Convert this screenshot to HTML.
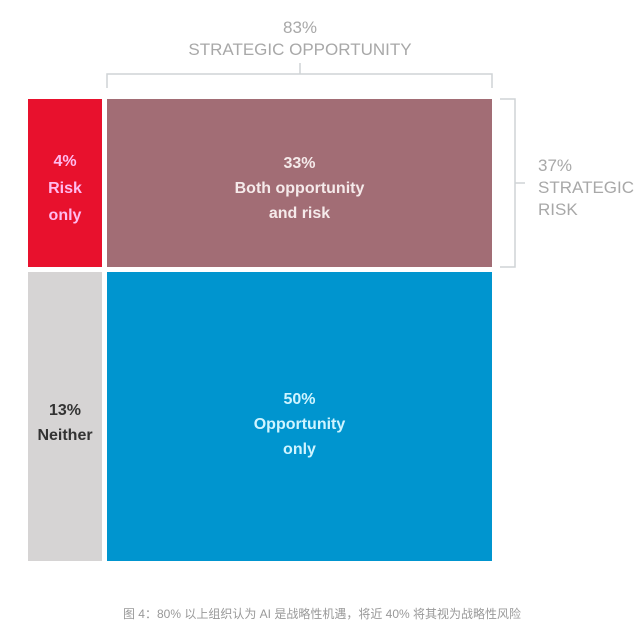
<!DOCTYPE html>
<html><head><meta charset="utf-8"><style>
body{margin:0;width:644px;height:629px;background:#fff;position:relative;overflow:hidden;font-family:"Liberation Sans","Noto Sans CJK SC",sans-serif}
.a{position:absolute}
.t{position:absolute;text-align:center;font-weight:bold;line-height:25px;font-size:16px}
.g{color:#a8a8a8;font-size:17px;position:absolute;line-height:22px}
</style></head><body>
<div class="a" style="left:28px;top:99px;width:74px;height:168px;background:#e8112d"></div>
<div class="a" style="left:107px;top:99px;width:385px;height:168px;background:#a26d75"></div>
<div class="a" style="left:28px;top:272px;width:74px;height:289px;background:#d6d4d4"></div>
<div class="a" style="left:107px;top:272px;width:385px;height:289px;background:#0095cf"></div>
<svg class="a" style="left:0;top:0" width="644" height="629">
<g stroke="#cfd3d6" stroke-width="1.5" fill="none">
<path d="M107 88 V74 H492 V88"/><path d="M300 74 V63"/>
<path d="M500 99 H515 V267 H500"/><path d="M515 183 H525"/>
</g></svg>
<div class="t" style="left:28px;top:148px;width:74px;color:#fbe;line-height:27px">4%<br>Risk<br>only</div>
<div class="t" style="left:107px;top:151px;width:385px;color:#f5eaea">33%<br>Both opportunity<br>and risk</div>
<div class="t" style="left:28px;top:398px;width:74px;color:#333">13%<br>Neither</div>
<div class="t" style="left:107px;top:387px;width:385px;color:#cff4ff">50%<br>Opportunity<br>only</div>
<div class="g" style="left:150px;top:17px;width:300px;text-align:center">83%<br>STRATEGIC OPPORTUNITY</div>
<div class="g" style="left:538px;top:155px">37%<br>STRATEGIC<br>RISK</div>
<div class="a" style="left:0;top:605px;width:644px;text-align:center;font-size:12px;color:#999">图 4：80% 以上组织认为 AI 是战略性机遇，将近 40% 将其视为战略性风险</div>
</body></html>
